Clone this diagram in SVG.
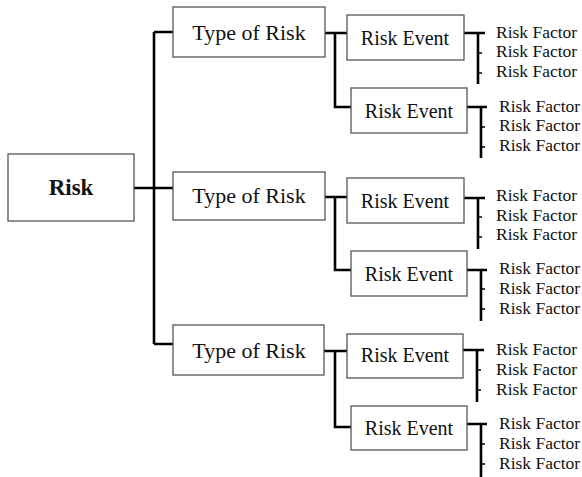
<svg xmlns="http://www.w3.org/2000/svg" width="582" height="477" viewBox="0 0 582 477">
<style>
.box{fill:#fff;stroke:#555;stroke-width:1.3}
text{font-family:'Liberation Serif','Times New Roman',Times,serif;fill:#111}
.t{text-anchor:middle}
.root{font-size:23px;font-weight:bold}
.typ{font-size:22px}
.ev{font-size:20px}
.rf{font-size:17.5px}
.c{fill:none;stroke:#000;stroke-width:2.6}
.tk{fill:none;stroke:#000;stroke-width:1.5}
</style>
<rect width="582" height="477" fill="#fff"/>
<g id="connectors">
<path class="c" d="M134,188H154M154,32V344M154,32H173M154,188H173M154,344H173"/>
<path class="c" d="M325,33H335V107H351M335,33H347"/>
<path class="c" d="M325,197H335V270H351M335,197H347"/>
<path class="c" d="M324,351H335V427H351M335,351H347"/>
<path class="c" d="M464,33H485M478,33V84"/>
<path class="c" d="M467,107H487M481,107V158"/>
<path class="c" d="M464,198H485M478,198V249"/>
<path class="c" d="M467,270H487M481,270V321"/>
<path class="c" d="M463,350H484M477,350V402"/>
<path class="c" d="M467,424H487M481,424V477"/>
<path class="tk" d="M478,53H482M478,73H482M481,127H485M481,147H485M478,217H482M478,237H482M481,289H485M481,309H485M477,370H481M477,390H481M481,444H485M481,464H485"/>
</g>
<g id="risk"><rect class="box" x="8" y="154" width="126" height="67"/><text class="t root" x="71" y="195" font-family="Liberation Serif, serif">Risk</text></g>
<g id="type1"><rect class="box" x="173" y="7" width="152" height="50"/><text class="t typ" x="249" y="40">Type of Risk</text></g>
<g id="type2"><rect class="box" x="173" y="172" width="152" height="48"/><text class="t typ" x="249" y="203">Type of Risk</text></g>
<g id="type3"><rect class="box" x="173" y="325" width="151" height="50"/><text class="t typ" x="249" y="358">Type of Risk</text></g>
<g id="event1"><rect class="box" x="347" y="15" width="117" height="45"/><text class="t ev" x="405" y="45">Risk Event</text></g>
<g id="event2"><rect class="box" x="351" y="88" width="116" height="45"/><text class="t ev" x="409" y="118">Risk Event</text></g>
<g id="event3"><rect class="box" x="347" y="178" width="117" height="45"/><text class="t ev" x="405" y="208">Risk Event</text></g>
<g id="event4"><rect class="box" x="351" y="251" width="116" height="45"/><text class="t ev" x="409" y="281">Risk Event</text></g>
<g id="event5"><rect class="box" x="347" y="334" width="116" height="44"/><text class="t ev" x="405" y="362">Risk Event</text></g>
<g id="event6"><rect class="box" x="351" y="406" width="116" height="44"/><text class="t ev" x="409" y="435">Risk Event</text></g>
<g id="factors1"><text class="rf" x="496" y="38">Risk Factor</text><text class="rf" x="496" y="57">Risk Factor</text><text class="rf" x="496" y="77">Risk Factor</text></g>
<g id="factors2"><text class="rf" x="499" y="112">Risk Factor</text><text class="rf" x="499" y="131">Risk Factor</text><text class="rf" x="499" y="151">Risk Factor</text></g>
<g id="factors3"><text class="rf" x="496" y="201">Risk Factor</text><text class="rf" x="496" y="221">Risk Factor</text><text class="rf" x="496" y="240">Risk Factor</text></g>
<g id="factors4"><text class="rf" x="499" y="274">Risk Factor</text><text class="rf" x="499" y="294">Risk Factor</text><text class="rf" x="499" y="314">Risk Factor</text></g>
<g id="factors5"><text class="rf" x="496" y="355">Risk Factor</text><text class="rf" x="496" y="375">Risk Factor</text><text class="rf" x="496" y="395">Risk Factor</text></g>
<g id="factors6"><text class="rf" x="499" y="429">Risk Factor</text><text class="rf" x="499" y="449">Risk Factor</text><text class="rf" x="499" y="469">Risk Factor</text></g>
</svg>
